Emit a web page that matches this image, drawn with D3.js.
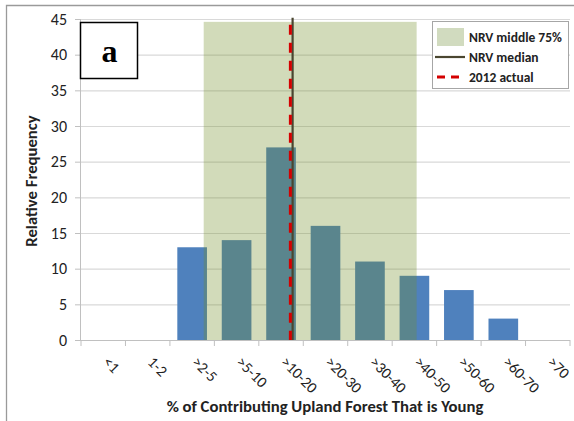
<!DOCTYPE html>
<html>
<head>
<meta charset="utf-8">
<script src="https://cdn.jsdelivr.net/npm/d3@7"></script>
<style>
  body { margin: 0; background: #fff; }
  svg text { font-family: Carlito, Lato, "Open Sans", sans-serif; }
</style>
</head>
<body>
<div id="chart"></div>
<script>
// categories and bar heights
var categories = ["<1", "1-2", ">2-5", ">5-10", ">10-20", ">20-30", ">30-40", ">40-50", ">50-60", ">60-70", ">70"];
var frequency = [0, 0, 13, 14, 27, 16, 11, 9, 7, 3, 0];
var yTicks = [0, 5, 10, 15, 20, 25, 30, 35, 40, 45];

// NRV band and markers, in category-position units (0 = left edge of "<1")
var nrvMiddle75 = [2.76, 7.55];
var nrvTop = 44.6;
var nrvMedian = 4.76;
var actual2012 = 4.71;

var legendItems = ["NRV middle 75%", "NRV median", "2012 actual"];

var W = 574, H = 421;
var margin = {top: 19, right: 4, bottom: 81, left: 81};
var width = W - margin.left - margin.right,
    height = H - margin.top - margin.bottom;

var svg = d3.select("#chart").append("svg")
    .attr("width", W)
    .attr("height", H);

// outer frame (only left/top visible in the source)
svg.append("path")
    .attr("d", "M6.5," + H + "V5.5H" + W)
    .attr("fill", "none")
    .attr("stroke", "#9a9a9a")
    .attr("stroke-width", 1.3);

var g = svg.append("g")
    .attr("transform", "translate(" + margin.left + "," + margin.top + ")");

var x = d3.scaleBand()
    .domain(categories)
    .range([0, width])
    .paddingInner(0.333)
    .paddingOuter(0.1665);

var xPos = d3.scaleLinear().domain([0, categories.length]).range([0, width]);

var y = d3.scaleLinear().domain([0, 45]).range([height, 0]);

// gridlines
g.append("g")
    .selectAll("line")
    .data(yTicks.slice(1))
    .enter().append("line")
    .attr("x1", 0).attr("x2", width)
    .attr("y1", function(d) { return y(d) + 0.5; })
    .attr("y2", function(d) { return y(d) + 0.5; })
    .attr("stroke", "#d9d9d9")
    .attr("stroke-width", 1.2);

// bars
g.append("g")
    .selectAll("rect")
    .data(frequency)
    .enter().append("rect")
    .attr("x", function(d, i) { return x(categories[i]); })
    .attr("y", function(d) { return y(d); })
    .attr("width", x.bandwidth())
    .attr("height", function(d) { return height - y(d); })
    .attr("fill", "#4f81bd");

// NRV middle 75% overlay
g.append("rect")
    .attr("x", xPos(nrvMiddle75[0]))
    .attr("y", y(nrvTop))
    .attr("width", xPos(nrvMiddle75[1]) - xPos(nrvMiddle75[0]))
    .attr("height", height - y(nrvTop))
    .attr("fill", "rgb(115,142,39)")
    .attr("fill-opacity", 0.32);

// NRV median
g.append("line")
    .attr("x1", xPos(nrvMedian)).attr("x2", xPos(nrvMedian))
    .attr("y1", y(nrvTop) - 4).attr("y2", height)
    .attr("stroke", "#4a4630")
    .attr("stroke-width", 2.2);

// 2012 actual
g.append("line")
    .attr("x1", xPos(actual2012)).attr("x2", xPos(actual2012))
    .attr("y1", y(nrvTop) + 3).attr("y2", height)
    .attr("stroke", "#d40000")
    .attr("stroke-width", 3)
    .attr("stroke-dasharray", "10,8");

// y axis
var yAxis = g.append("g")
    .call(d3.axisLeft(y).tickValues(yTicks).tickSize(6).tickPadding(8));
yAxis.select(".domain").attr("stroke", "#c0c0c0").attr("d", "M-0.5,0V" + height);
yAxis.selectAll(".tick line").attr("stroke", "#c0c0c0");
yAxis.selectAll("text")
    .attr("font-size", 16)
    .attr("fill", "#222");

// x axis, ticks on category boundaries
var xAxis = g.append("g")
    .attr("transform", "translate(0," + height + ")");
xAxis.append("line")
    .attr("x1", 0).attr("x2", width)
    .attr("y1", 0.5).attr("y2", 0.5)
    .attr("stroke", "#c0c0c0");
xAxis.selectAll(".tk")
    .data(d3.range(categories.length + 1))
    .enter().append("line")
    .attr("class", "tk")
    .attr("x1", function(d) { return xPos(d); })
    .attr("x2", function(d) { return xPos(d); })
    .attr("y1", 0).attr("y2", 6)
    .attr("stroke", "#c0c0c0");
xAxis.selectAll(".lbl")
    .data(categories)
    .enter().append("text")
    .attr("class", "lbl")
    .attr("transform", function(d) {
        return "translate(" + (x(d) + x.bandwidth() / 2 - 1) + ",23) rotate(45)";
    })
    .attr("font-size", 15.5)
    .attr("fill", "#222")
    .text(function(d) { return d; });

// axis titles
svg.append("text")
    .attr("x", 325).attr("y", 412)
    .attr("text-anchor", "middle")
    .attr("font-size", 16.7)
    .attr("font-weight", "bold")
    .attr("fill", "#222")
    .text("% of Contributing Upland Forest That is Young");

svg.append("text")
    .attr("transform", "translate(37,181) rotate(-90)")
    .attr("text-anchor", "middle")
    .attr("font-size", 16.7)
    .attr("font-weight", "bold")
    .attr("fill", "#222")
    .text("Relative Frequency");

// panel label
svg.append("rect")
    .attr("x", 80.5).attr("y", 22.5)
    .attr("width", 57).attr("height", 56)
    .attr("fill", "#fff")
    .attr("stroke", "#000")
    .attr("stroke-width", 1.5);
svg.append("text")
    .attr("x", 109.5).attr("y", 62)
    .attr("text-anchor", "middle")
    .style("font-family", "'Liberation Serif', 'DejaVu Serif', serif")
    .attr("font-size", 32)
    .attr("font-weight", "bold")
    .text("a");

// legend
var legend = svg.append("g").attr("transform", "translate(432,21)");
legend.append("rect")
    .attr("x", 0.5).attr("y", 0.5)
    .attr("width", 136).attr("height", 67)
    .attr("fill", "#fff")
    .attr("stroke", "#a6a6a6");
legend.append("rect")
    .attr("x", 5).attr("y", 7)
    .attr("width", 27).attr("height", 18)
    .attr("fill", "#d1dbbf");
legend.append("line")
    .attr("x1", 3).attr("x2", 33).attr("y1", 36).attr("y2", 36)
    .attr("stroke", "#4a4630").attr("stroke-width", 2.2);
legend.append("line")
    .attr("x1", 5).attr("x2", 33).attr("y1", 56).attr("y2", 56)
    .attr("stroke", "#d40000").attr("stroke-width", 3)
    .attr("stroke-dasharray", "8,6");
legend.selectAll(".lt")
    .data(legendItems)
    .enter().append("text")
    .attr("class", "lt")
    .attr("x", 37)
    .attr("y", function(d, i) { return 21 + i * 20; })
    .attr("font-size", 13.5)
    .attr("font-weight", "bold")
    .attr("fill", "#222")
    .text(function(d) { return d; });
</script>
</body>
</html>
